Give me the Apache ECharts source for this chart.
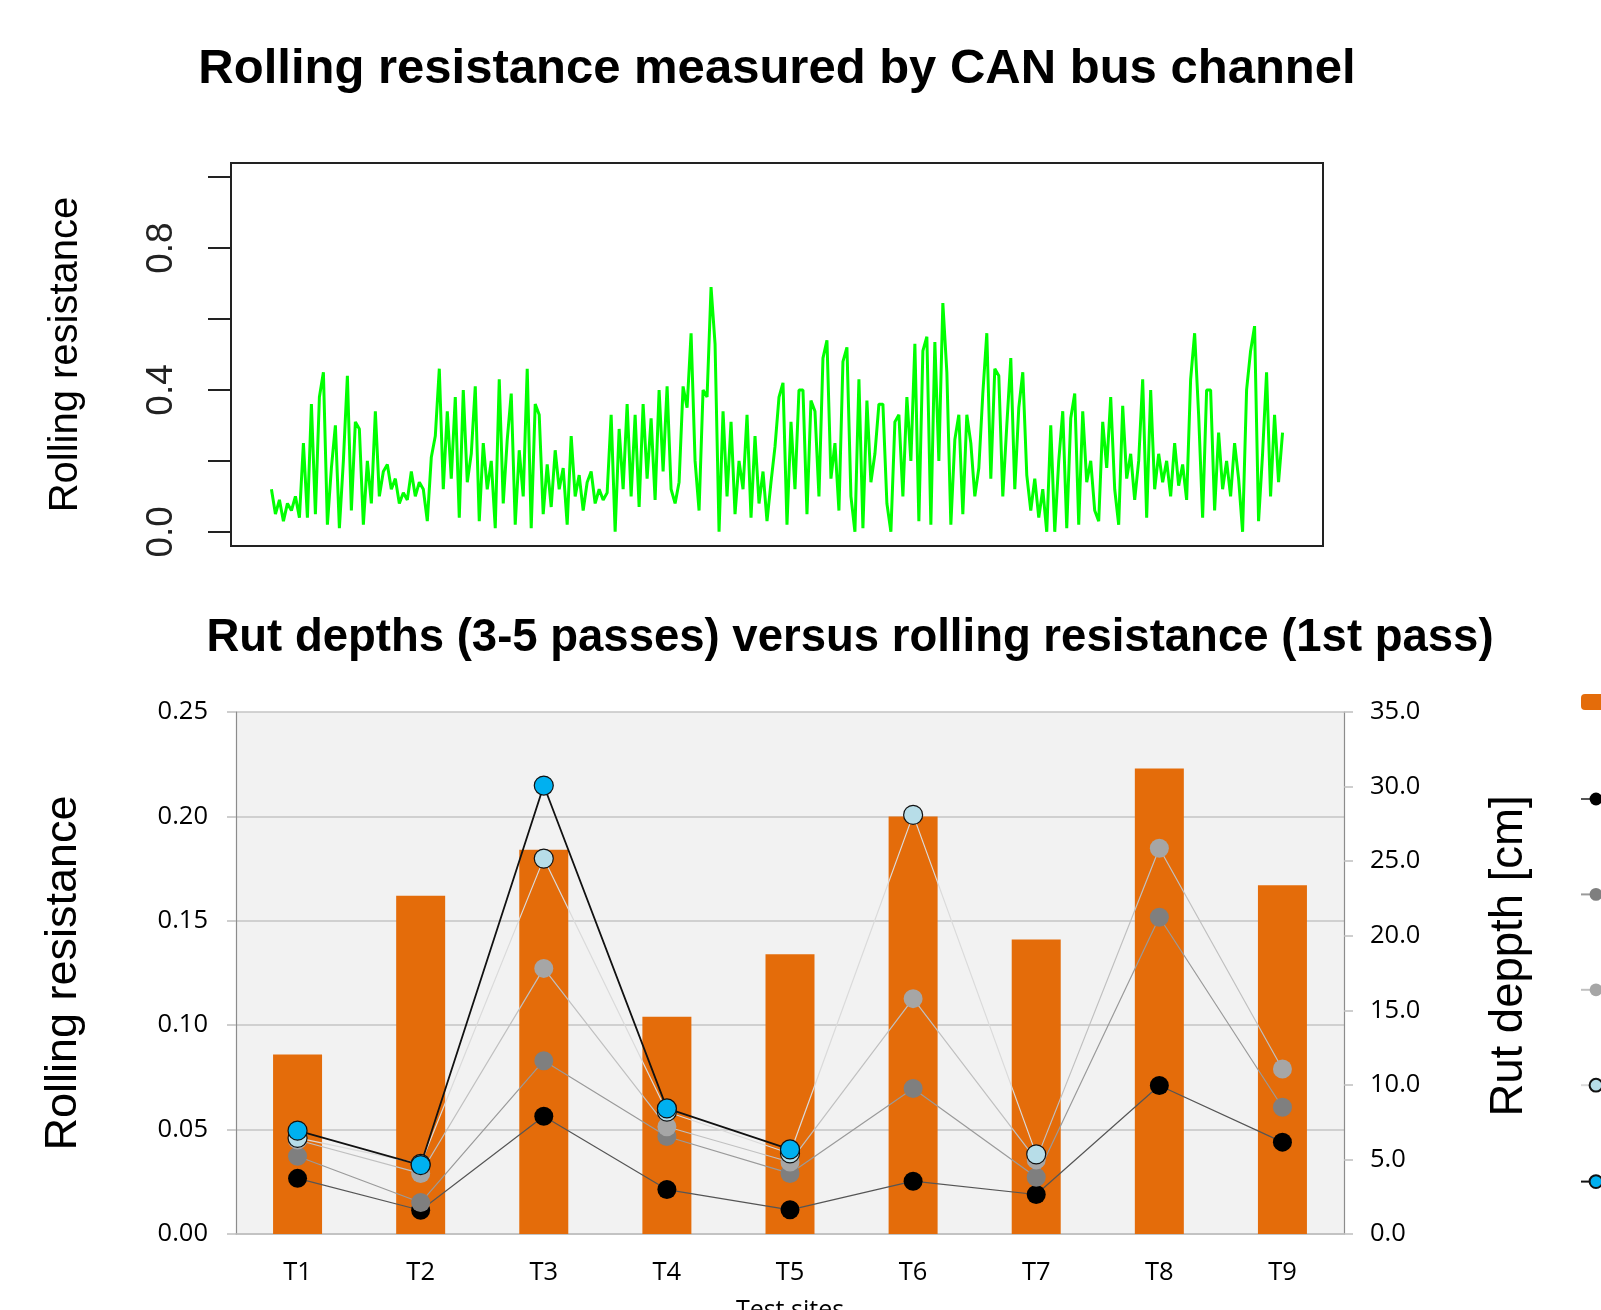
<!DOCTYPE html>
<html>
<head>
<meta charset="utf-8">
<script src="https://cdn.jsdelivr.net/npm/echarts@6/dist/echarts.min.js"></script>
<style>
  html, body { margin: 0; padding: 0; background: #fff; }
  #chart { width: 1601px; height: 1310px; }
</style>
</head>
<body>
<div id="chart"></div>
<script>
// top panel: CAN bus rolling resistance trace
const greenTrace = [
  0.12, 0.05, 0.09, 0.03, 0.08, 0.06, 0.1, 0.04,
  0.25, 0.04, 0.36, 0.05, 0.38, 0.45, 0.02, 0.18, 0.3, 0.01, 0.2, 0.44, 0.06, 0.31, 0.29, 0.02, 0.2, 0.08, 0.34, 0.1,
  0.17, 0.19, 0.12, 0.15, 0.08, 0.11, 0.09, 0.17, 0.1, 0.14, 0.12, 0.03,
  0.21, 0.27, 0.46, 0.12, 0.34, 0.15, 0.38, 0.04, 0.4, 0.14, 0.22, 0.41, 0.03, 0.25, 0.12, 0.2, 0.01, 0.43, 0.08, 0.26,
  0.39, 0.02, 0.23, 0.1, 0.46, 0.01, 0.36, 0.33, 0.05, 0.19,
  0.07, 0.23, 0.12, 0.18, 0.02, 0.27, 0.1, 0.16, 0.06, 0.14, 0.17, 0.08, 0.12, 0.09, 0.11,
  0.33, 0.0, 0.29, 0.12, 0.36, 0.1, 0.33, 0.07, 0.36, 0.15, 0.32, 0.09, 0.4, 0.17, 0.41, 0.12, 0.08, 0.14,
  0.41, 0.35, 0.56, 0.2, 0.06, 0.4, 0.38, 0.69, 0.53, 0.0, 0.34, 0.1, 0.31, 0.05, 0.2, 0.12, 0.33, 0.04, 0.27, 0.08,
  0.17, 0.03, 0.14,
  0.24, 0.38, 0.42, 0.02, 0.31, 0.12, 0.4, 0.4, 0.05, 0.37, 0.34, 0.1, 0.49, 0.54, 0.15, 0.25, 0.06, 0.48, 0.52, 0.1,
  0.0, 0.43, 0.01, 0.37, 0.14, 0.22, 0.36, 0.36, 0.08, 0.0,
  0.31, 0.33, 0.1, 0.38, 0.2, 0.53, 0.03, 0.51, 0.55, 0.02, 0.535, 0.2, 0.645, 0.45, 0.02, 0.26, 0.33,
  0.05, 0.33, 0.25, 0.1, 0.18, 0.39, 0.56, 0.15, 0.46, 0.44, 0.1, 0.3, 0.49, 0.12, 0.35, 0.45, 0.16, 0.06, 0.15, 0.04,
  0.12, 0.0,
  0.3, 0.0, 0.2, 0.34, 0.01, 0.32, 0.39, 0.02, 0.34, 0.14, 0.2, 0.06,
  0.03, 0.31, 0.18, 0.38, 0.12, 0.02, 0.355, 0.15, 0.22, 0.09, 0.2, 0.43, 0.04, 0.4, 0.12,
  0.22, 0.14, 0.2, 0.1, 0.25, 0.13, 0.19, 0.09,
  0.43, 0.56, 0.33, 0.04, 0.4, 0.4, 0.06, 0.28, 0.12, 0.2, 0.1, 0.25, 0.15,
  0.0, 0.4, 0.51, 0.58, 0.03, 0.22, 0.45, 0.1, 0.33, 0.14, 0.28
];
const topTicks = [0, 0.2, 0.4, 0.6, 0.8, 1.0];
const topTickLabels = [0, 0.4, 0.8];

// bottom panel
const sites = ['T1', 'T2', 'T3', 'T4', 'T5', 'T6', 'T7', 'T8', 'T9'];
const rollingRes = [0.086, 0.162, 0.184, 0.104, 0.134, 0.200, 0.141, 0.223, 0.167];
const rutBlack = [3.73, 1.59, 7.9, 2.98, 1.62, 3.54, 2.65, 9.96, 6.16];
const rutDarkGray = [5.21, 2.11, 11.62, 6.54, 4.06, 9.75, 3.8, 21.24, 8.5];
const rutLightGray = [6.3, 4.06, 17.81, 7.19, 4.83, 15.78, 4.97, 25.86, 11.06];
const rutLightBlue = [6.44, 4.7, 25.17, 8.2, 5.4, 28.1, 5.34, null, null];
const rutBlue = [6.93, 4.62, 30.07, 8.42, 5.67, null, null, null, null];

const n = greenTrace.length;
const excelFont = 'Open Sans';
const rFont = 'Liberation Sans';

const chart = echarts.init(document.getElementById('chart'));

function rutSeries(name, data, fill, line, lineWidth, border) {
    return {
        name: name, type: 'line', xAxisIndex: 1, yAxisIndex: 2,
        data: data, symbol: 'circle', symbolSize: 19,
        connectNulls: false,
        lineStyle: { color: line, width: lineWidth },
        itemStyle: { color: fill, borderColor: border || fill, borderWidth: border ? 1.2 : 0 },
        emphasis: { disabled: true },
        z: 3
    };
}

chart.setOption({
    backgroundColor: '#fff',
    animation: false,
    title: [
        {
            text: 'Rolling resistance measured by CAN bus channel',
            left: 772, top: 40, textAlign: 'center',
            textStyle: { fontFamily: rFont, fontWeight: 'bold', fontSize: 49, color: '#000' }
        },
        {
            text: 'Rut depths (3-5 passes) versus rolling resistance (1st pass)',
            left: 845, top: 610, textAlign: 'center',
            textStyle: { fontFamily: rFont, fontWeight: 'bold', fontSize: 45.5, color: '#000' }
        }
    ],
    legend: {
        orient: 'vertical', left: 1580, top: 694, padding: 0,
        itemWidth: 30, itemHeight: 16, itemGap: 81,
        formatter: () => '',
        textStyle: { fontSize: 10 },
        data: ['Rolling resistance', 'Rut depth A', 'Rut depth B', 'Rut depth C', 'Rut depth D', 'Rut depth E']
    },
    grid: [
        { left: 231, top: 163, width: 1092, height: 383, outerBoundsMode: 'none', show: true, borderColor: '#222', borderWidth: 2, backgroundColor: '#fff' },
        { left: 236, top: 712, width: 1108, height: 522, outerBoundsMode: 'none', show: true, borderWidth: 0, backgroundColor: '#f2f2f2' }
    ],
    xAxis: [
        {
            type: 'value', gridIndex: 0,
            min: -0.04 * (n - 1), max: 1.04 * (n - 1),
            axisLine: { show: false }, axisTick: { show: false }, axisLabel: { show: false }, splitLine: { show: false }
        },
        {
            type: 'category', gridIndex: 1, data: sites,
            name: 'Test sites', nameLocation: 'middle', nameGap: 64,
            nameTextStyle: { fontFamily: excelFont, fontSize: 25, color: '#000' },
            axisLine: { lineStyle: { color: '#bfbfbf', width: 1.5 } },
            axisTick: { show: false },
            axisLabel: { margin: 26, fontFamily: excelFont, fontSize: 25.5, color: '#000' }
        }
    ],
    yAxis: [
        {
            type: 'value', gridIndex: 0, min: -0.04, max: 1.04,
            name: 'Rolling resistance', nameLocation: 'middle', nameGap: 145, nameRotate: 90,
            nameTextStyle: { fontFamily: rFont, fontSize: 40, color: '#000' },
            axisLine: { show: false, onZero: false },
            axisTick: { show: true, customValues: topTicks, length: 23, lineStyle: { color: '#222', width: 2 } },
            axisLabel: {
                customValues: topTickLabels, rotate: 90, margin: 51,
                fontFamily: rFont, fontSize: 37, color: '#222',
                formatter: v => v.toFixed(1)
            },
            splitLine: { show: false }
        },
        {
            type: 'value', gridIndex: 1, min: 0, max: 0.25, interval: 0.05,
            name: 'Rolling resistance', nameLocation: 'middle', nameGap: 150, nameRotate: 90,
            nameTextStyle: { fontFamily: rFont, fontSize: 45, color: '#000' },
            axisLine: { show: true, lineStyle: { color: '#8c8c8c', width: 1.2 } },
            axisTick: { show: true, length: 9, lineStyle: { color: '#bfbfbf', width: 1.5 } },
            axisLabel: { margin: 28, fontFamily: excelFont, fontSize: 25.5, color: '#000', formatter: v => v.toFixed(2) },
            splitLine: { lineStyle: { color: '#c4c4c4', width: 1.5 } }
        },
        {
            type: 'value', gridIndex: 1, min: 0, max: 35, interval: 5, position: 'right',
            name: 'Rut deppth [cm]', nameLocation: 'middle', nameGap: 142, nameRotate: 90,
            nameTextStyle: { fontFamily: rFont, fontSize: 45.5, color: '#000', padding: [0, 0, 0, 34] },
            axisLine: { show: true, lineStyle: { color: '#8c8c8c', width: 1.2 } },
            axisTick: { show: true, length: 9, lineStyle: { color: '#bfbfbf', width: 1.5 } },
            axisLabel: { margin: 26, fontFamily: excelFont, fontSize: 25.5, color: '#000', formatter: v => v.toFixed(1) },
            splitLine: { show: false }
        }
    ],
    series: [
        {
            name: 'CAN bus', type: 'line', xAxisIndex: 0, yAxisIndex: 0,
            data: greenTrace.map((v, i) => [i, v]),
            showSymbol: false, sampling: null,
            lineStyle: { color: '#00ff00', width: 3 },
            silent: true
        },
        {
            name: 'Rolling resistance', type: 'bar', xAxisIndex: 1, yAxisIndex: 1,
            data: rollingRes, barWidth: 49,
            itemStyle: { color: '#e46c0a' },
            emphasis: { disabled: true },
            z: 2
        },
        rutSeries('Rut depth A', rutBlack, '#000000', '#555555', 1.2),
        rutSeries('Rut depth B', rutDarkGray, '#7f7f7f', '#9a9a9a', 1.2),
        rutSeries('Rut depth C', rutLightGray, '#a6a6a6', '#c0c0c0', 1.2),
        rutSeries('Rut depth D', rutLightBlue, '#b7dde8', '#dadada', 1.2, '#111'),
        rutSeries('Rut depth E', rutBlue, '#00b0f0', '#111111', 1.8, '#111')
    ]
});

window.addEventListener('resize', () => chart.resize());
</script>
</body>
</html>
